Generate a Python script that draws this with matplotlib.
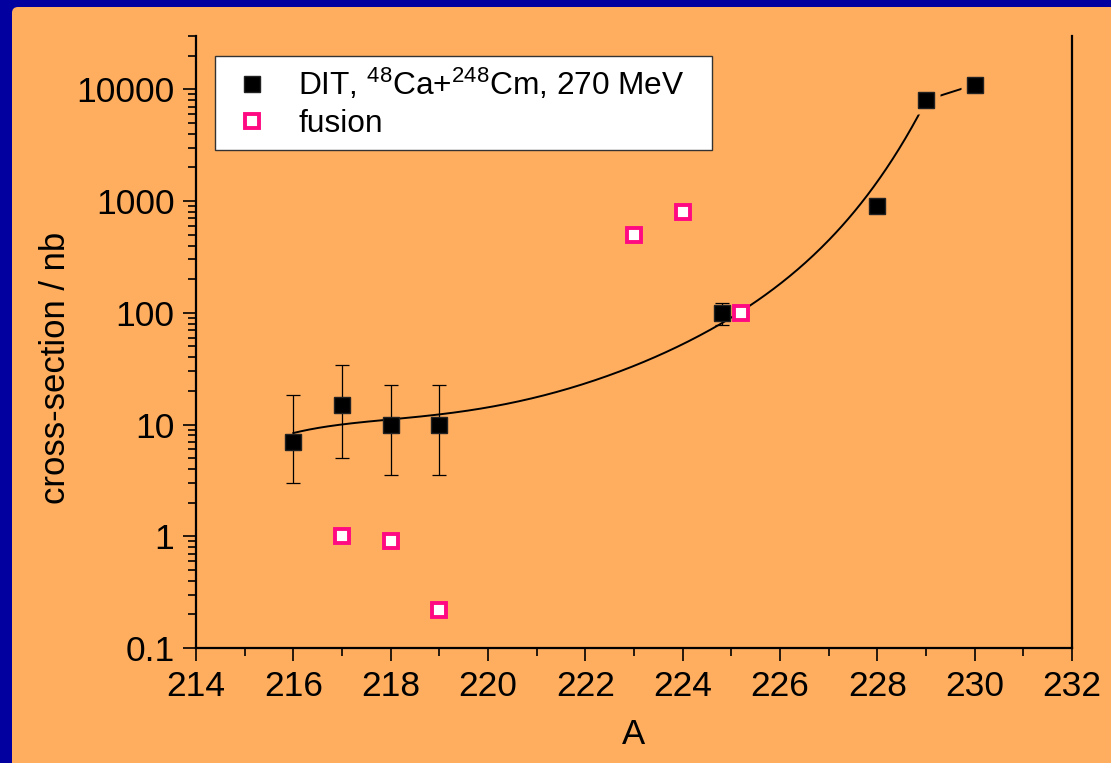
import numpy as np
import matplotlib
matplotlib.use("Agg")
import matplotlib.pyplot as plt
from matplotlib.patches import FancyBboxPatch
from matplotlib.ticker import LogLocator, NullFormatter, MultipleLocator, FixedLocator

# ---- data ----
dit_A = [216, 217, 218, 219, 224.8, 228, 229, 230]
dit_nb = [7, 15, 10, 10, 100, 900, 8000, 11000]
dit_err_low = [4, 10, 6.5, 6.5, 22, 0, 0, 0]
dit_err_high = [11.5, 19, 12.5, 12.5, 22, 0, 0, 0]

fusion_A = [217, 218, 219, 223, 224, 225.2]
fusion_nb = [1, 0.9, 0.22, 500, 800, 100]

# fitted curve (A, cross-section)
curve_A = [216, 217, 218, 219, 221.07, 223.12, 224.36, 224.77, 225.18, 226.2, 227.23, 227.85, 228.26, 229]
curve_nb = [8.5, 9.75, 11.0, 12.8, 17.9, 33, 66, 81, 101, 207, 596, 1186, 2130, 8000]

x_ticks = [214, 216, 218, 220, 222, 224, 226, 228, 230, 232]
y_ticks = [0.1, 1, 10, 100, 1000, 10000]
y_ticklabels = ["0.1", "1", "10", "100", "1000", "10000"]

# ---- style ----
BLUE = "#0300A0"
ORANGE = "#FFAE5F"
PINK = "#FF0A82"
FONT = ["Liberation Sans", "DejaVu Sans"]
plt.rcParams["font.family"] = FONT
plt.rcParams["mathtext.fontset"] = "custom"
plt.rcParams["mathtext.rm"] = "Liberation Sans"
plt.rcParams["mathtext.it"] = "Liberation Sans"
plt.rcParams["mathtext.default"] = "regular"

fig = plt.figure(figsize=(11.11, 7.63), dpi=100)
fig.patch.set_facecolor(BLUE)
bg = FancyBboxPatch((0.12, -0.5), 12.0, 7.63 - 0.07 + 0.5,
                    boxstyle="round,pad=0,rounding_size=0.06",
                    transform=fig.dpi_scale_trans, facecolor=ORANGE,
                    edgecolor="none", zorder=0)
fig.add_artist(bg)

ax = fig.add_axes([196 / 1111, 1 - 648 / 763, 876 / 1111, 612 / 763])
ax.set_facecolor("none")
ax.set_yscale("log")
ax.set_xlim(214, 232)
ax.set_ylim(0.1, 30000)

# fitted curve: polynomial fit of log10(sigma) vs A
cA = np.array(curve_A)
cl = np.log10(np.array(curve_nb))
coef = np.polyfit(cA - 222, cl, 5)
xs = np.linspace(curve_A[0], curve_A[-1], 400)
ax.plot(xs, 10 ** np.polyval(coef, xs - 222), color="black", lw=1.4, zorder=2)
# straight segment between the last two DIT points
ax.plot(dit_A[-2:], dit_nb[-2:], color="black", lw=1.4, zorder=2)
# gaps around the last two symbols
ax.plot(dit_A[-2:], dit_nb[-2:], "s", ms=20, color=ORANGE, mec="none", zorder=2.5)

# error bars
ax.errorbar(dit_A[:5], dit_nb[:5],
            yerr=[dit_err_low[:5], dit_err_high[:5]],
            fmt="none", ecolor="black", elinewidth=0.9, capsize=4.7,
            capthick=0.9, zorder=3)

ax.plot(dit_A, dit_nb, "s", ms=12, mfc="black", mec="#222222", mew=1,
        ls="none", zorder=4, label=r"DIT, $^{48}$Ca+$^{248}$Cm, 270 MeV")
ax.plot(fusion_A, fusion_nb, "s", ms=10, mfc="white", mec=PINK, mew=2.8,
        ls="none", zorder=4, label="fusion")

# axes styling
for s in ["left", "bottom", "right"]:
    ax.spines[s].set_linewidth(1.6)
ax.spines["top"].set_visible(False)

ax.xaxis.set_major_locator(FixedLocator(x_ticks))
ax.xaxis.set_minor_locator(MultipleLocator(1))
ax.set_xticklabels([str(t) for t in x_ticks])
ax.yaxis.set_major_locator(FixedLocator(y_ticks))
ax.set_yticklabels(y_ticklabels)
ax.yaxis.set_minor_locator(LogLocator(base=10, subs=np.arange(2, 10), numticks=20))
ax.yaxis.set_minor_formatter(NullFormatter())

ax.tick_params(axis="both", which="major", direction="out", length=9.5,
               width=1.2, labelsize=25.5, color="black")
ax.tick_params(axis="both", which="minor", direction="out", length=5.5,
               width=1.2, color="black")
ax.tick_params(axis="x", which="both", pad=6, top=False)
ax.tick_params(axis="y", which="both", pad=6, right=False)

ax.set_xlabel("A", fontsize=25)
ax.set_ylabel("cross-section / nb", fontsize=25)
ax.xaxis.set_label_coords(0.5, -0.115)
ax.yaxis.set_label_coords(-0.142, 0.4575)

# legend box: 215..712 px wide, top near 56 px
lx0 = (215 - 196) / 876
lw_ = (712 - 215) / 876
ltop = (648 - 56) / 612
leg = ax.legend(loc="upper left", bbox_to_anchor=(lx0, ltop - 0.3, lw_, 0.3),
                mode="expand", borderaxespad=0, fontsize=22.8, frameon=True,
                fancybox=False, framealpha=1, facecolor="white",
                edgecolor="#333333", borderpad=0.35, handlelength=1.66,
                handletextpad=0.62, labelspacing=0.22, numpoints=1)
leg.get_frame().set_linewidth(1.0)

fig.savefig("out.png", dpi=100, facecolor=BLUE)
